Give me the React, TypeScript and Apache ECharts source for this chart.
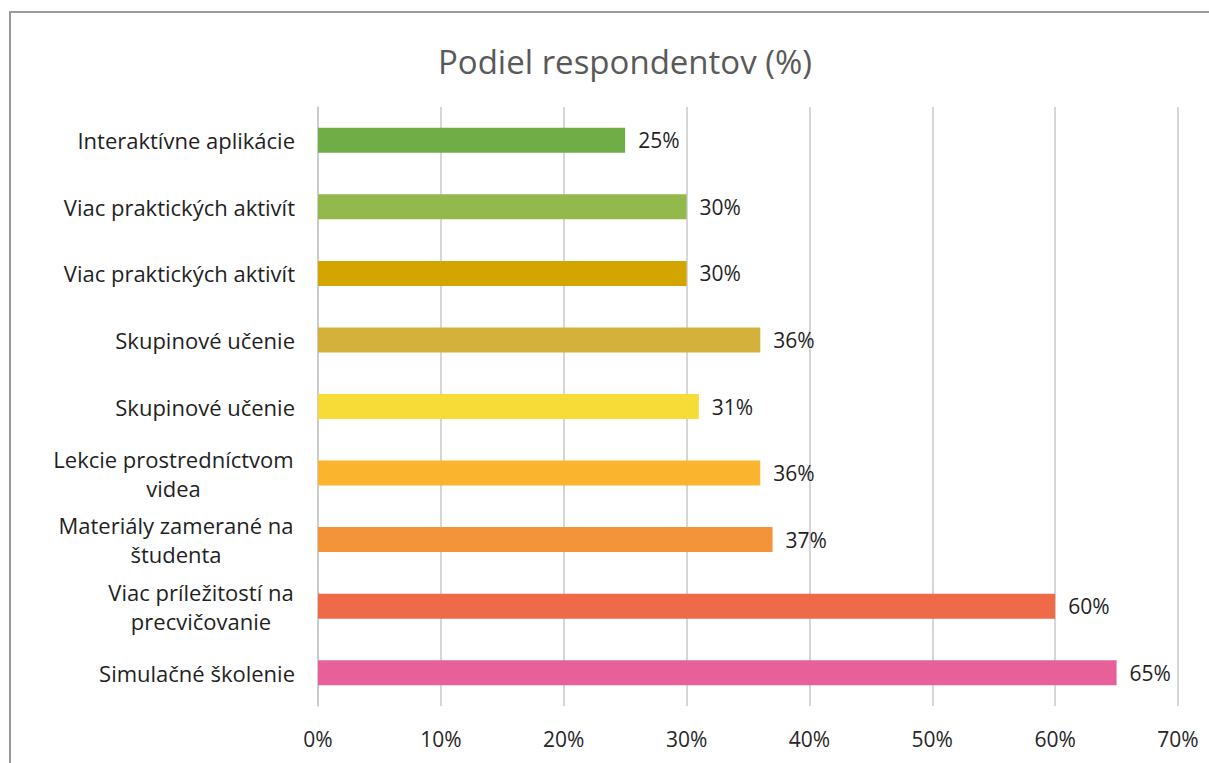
import React, { useEffect, useRef } from "react";
import * as echarts from "echarts";

const categories: string[] = [
  "Interaktívne aplikácie",
  "Viac praktických aktivít",
  "Viac praktických aktivít",
  "Skupinové učenie",
  "Skupinové učenie",
  "Lekcie prostredníctvom\nvidea",
  "Materiály zamerané na\nštudenta",
  "Viac príležitostí na\nprecvičovanie",
  "Simulačné školenie",
];
const values: number[] = [25, 30, 30, 36, 31, 36, 37, 60, 65];
const barColors: string[] = [
  "#70AD47",
  "#93B84B",
  "#D3A500",
  "#D4B13A",
  "#F7DB36",
  "#FBB42E",
  "#F4943A",
  "#EE6A48",
  "#E8609A",
];
const xTicks: number[] = [0, 10, 20, 30, 40, 50, 60, 70];
const titleText = "Podiel respondentov (%)";

const FONT = '"Open Sans", "Noto Sans", sans-serif';
const LABEL_SIZE = 22;

export default function App() {
  const ref = useRef<HTMLDivElement>(null);
  useEffect(() => {
    if (!ref.current) return;
    const chart = echarts.init(ref.current, undefined, { renderer: "svg" });

    const canvas = document.createElement("canvas");
    const ctx = canvas.getContext("2d")!;
    ctx.font = `${LABEL_SIZE}px "Open Sans"`;
    const rich: Record<string, any> = {};
    categories.forEach((c, i) => {
      if (c.includes("\n")) {
        const w = Math.max(...c.split("\n").map((l) => ctx.measureText(l).width));
        rich["c" + i] = {
          width: Math.ceil(w) + 2,
          align: "center",
          fontSize: LABEL_SIZE,
          fontFamily: FONT,
          color: "#1f1f1f",
          lineHeight: 29,
        };
      }
    });

    chart.setOption({
      animation: false,
      backgroundColor: "#ffffff",
      title: {
        text: titleText,
        left: 620,
        textAlign: "center",
        top: 40,
        textStyle: {
          fontFamily: FONT,
          fontSize: 33,
          fontWeight: "normal",
          color: "#595959",
        },
      },
      graphic: [
        {
          type: "rect",
          shape: { x: 10, y: 12, width: 1400, height: 1000 },
          style: { fill: "none", stroke: "#9a9a9a", lineWidth: 2 },
          silent: true,
        },
      ],
      grid: { left: 318, right: 31, top: 107, bottom: 57, containLabel: false },
      xAxis: {
        type: "value",
        min: 0,
        max: 70,
        interval: 10,
        axisLine: { show: false },
        axisTick: { show: false },
        splitLine: { show: true, lineStyle: { color: "#c9c9c9", width: 1.5 } },
        axisLabel: {
          formatter: (v: number) => (xTicks.includes(v) ? v + "%" : ""),
          fontFamily: FONT,
          fontSize: 21,
          color: "#262626",
          margin: 22,
        },
      },
      yAxis: {
        type: "category",
        data: categories,
        inverse: true,
        axisLine: { show: true, lineStyle: { color: "#c9c9c9", width: 1.5 } },
        axisTick: { show: false },
        axisLabel: {
          fontFamily: FONT,
          fontSize: LABEL_SIZE,
          color: "#1f1f1f",
          margin: 23,
          lineHeight: 29,
          rich,
          formatter: (v: string, i: number) => {
            if (v.includes("\n")) {
              return v
                .split("\n")
                .map((l) => `{c${i}|${l}}`)
                .join("\n");
            }
            return v;
          },
        },
      },
      series: [
        {
          type: "bar",
          data: values.map((v, i) => ({ value: v, itemStyle: { color: barColors[i] } })),
          barWidth: 25,
          label: {
            show: true,
            position: "right",
            distance: 13,
            formatter: "{c}%",
            fontFamily: FONT,
            fontSize: 21,
            color: "#1f1f1f",
          },
        },
      ],
    });
    return () => chart.dispose();
  }, []);
  return (
    <div
      ref={ref}
      style={{ position: "absolute", left: 0, top: 0, width: 1209, height: 763 }}
    />
  );
}
